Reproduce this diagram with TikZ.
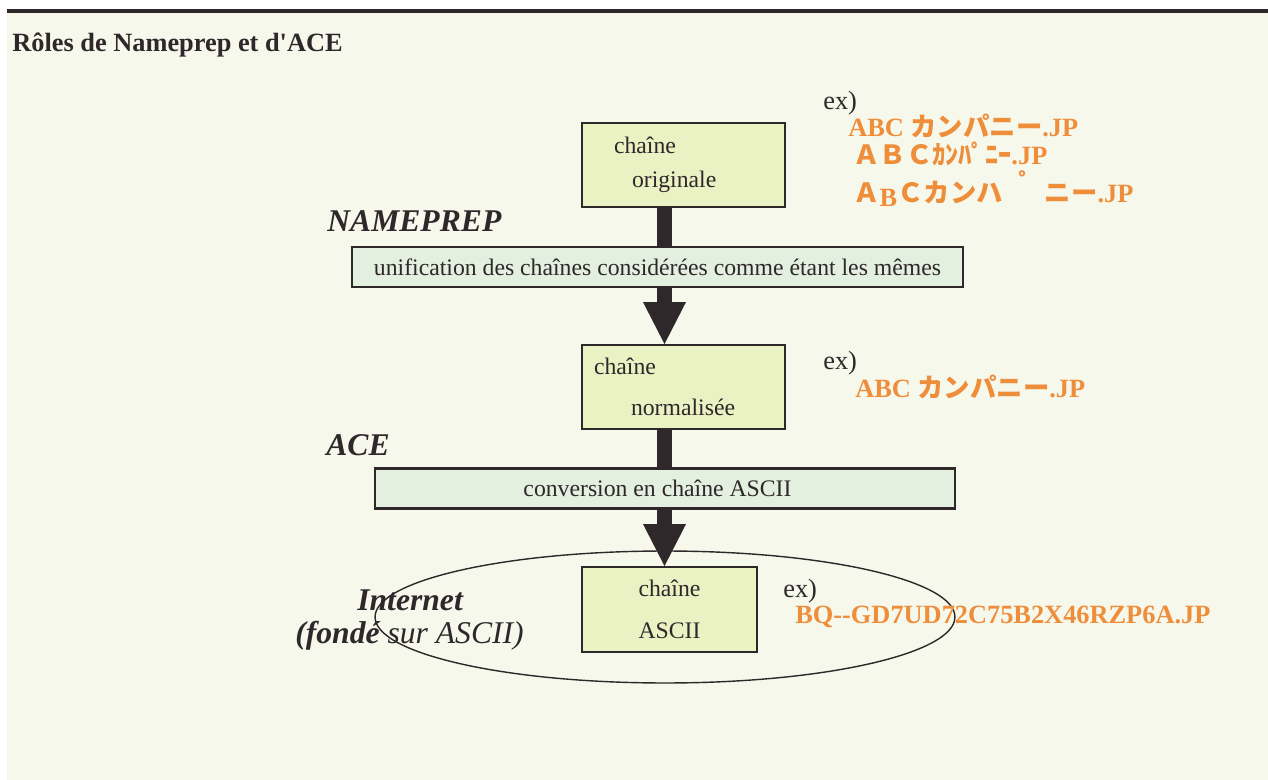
\documentclass[tikz,border=0pt]{standalone}
\usepackage{fontspec}
\setmainfont{Liberation Serif}
\newfontfamily\jpfont{Noto Sans CJK JP}
\usetikzlibrary{arrows.meta}
\definecolor{inkc}{RGB}{46,40,42}
\definecolor{bgc}{RGB}{246,248,236}
\definecolor{boxc}{RGB}{234,242,196}
\definecolor{bandc}{RGB}{227,239,223}
\definecolor{orangec}{RGB}{239,142,58}

\begin{document}
\begin{tikzpicture}[
  x={(0.02cm,0cm)},
  y={(0cm,-0.02cm)},
  chainebox/.style={draw=inkc, fill=boxc, line width=1.1pt, inner sep=0pt,
    font=\fontsize{13.5}{16}\selectfont, text=inkc},
  bande/.style={draw=inkc, fill=bandc, line width=1.3pt, minimum height=0.8cm,
    inner sep=0pt, font=\fontsize{13.5}{16}\selectfont, text=inkc},
  fleche/.style={draw=inkc, line width=0.3cm},
  pointe/.style={fleche, -{Triangle[width=0.86cm,length=0.84cm,line width=0pt]}},
  etape/.style={font=\fontsize{18}{20}\selectfont\bfseries\itshape, text=inkc,
    anchor=base west, inner sep=0pt},
  exemple/.style={font=\fontsize{15}{17}\selectfont, text=inkc, anchor=base west, inner sep=0pt},
  codejp/.style={font=\fontsize{15}{17}\selectfont\bfseries, text=orangec,
    anchor=base west, inner sep=0pt}
]
  % fond de la page
  \fill[white] (0,0) rectangle (1268,780);
  \useasboundingbox (0,0) rectangle (1268,780);
  \fill[bgc] (7,13) rectangle (1268,780);
  \fill[inkc] (7,9) rectangle (1268,13);
  \node[anchor=base west, inner sep=0pt, text=inkc,
    font=\fontsize{15}{17}\selectfont\bfseries] (titre) at (12,52)
    {Rôles de Nameprep et d\textquotesingle ACE};

  % réseau
  \draw[inkc, line width=0.8pt] (665,617) ellipse [x radius=5.8cm, y radius=1.32cm];

  % chaînes et traitements
  \node[chainebox, text width=4.06cm, minimum height=1.68cm, align=left] (orig) at (683.5,165)
    {\hspace*{0.64cm}chaîne\\[0.12cm]\hspace*{1cm}originale};
  \node[bande, minimum width=12.22cm] (nameprep) at (657.5,267)
    {unification des chaînes considérées comme étant les mêmes};
  \node[chainebox, text width=4.06cm, minimum height=1.68cm, align=left] (norm) at (683.5,387)
    {\hspace*{0.24cm}chaîne\\[0.26cm]\hspace*{0.98cm}normalisée};
  \node[bande, minimum width=11.6cm] (ace) at (665,488.5)
    {\hspace*{-0.3cm}conversion en chaîne ASCII};
  \node[chainebox, text width=3.5cm, minimum height=1.7cm, align=center] (ascii) at (669.5,609.5)
    {chaîne\\[0.28cm]ASCII};

  % flèches
  \coordinate (axe) at (664.5,0);
  \draw[fleche] (orig.south -| axe) -- (nameprep.north -| axe);
  \draw[pointe] (nameprep.south -| axe) -- (norm.north -| axe);
  \draw[fleche] (norm.south -| axe) -- (ace.north -| axe);
  \draw[pointe] (ace.south -| axe) -- (ascii.north -| axe);

  % étiquettes
  \node[etape] (lnp) at (327,232) {NAMEPREP};
  \node[etape] (lace) at (326,456) {ACE};
  \node[etape] (lnet) at (357,610) {Internet};
  \node[etape] (lbase) at (295,643) {(fondé \mdseries sur ASCII)};

  % exemples
  \node[exemple] (ex1) at (823,110) {ex)};
  \node[codejp] (ex1a) at (848,137) {ABC {\jpfont カンパニー}.JP};
  \node[codejp] (ex1b) at (853,165) {{\jpfont ＡＢＣｶﾝﾊﾟﾆｰ}.JP};
  \node[codejp] (ex1c) at (853,203)
    {{\jpfont Ａ}\raisebox{-0.25ex}{B}{\jpfont Ｃカンハ}\hspace{0.6em}\raisebox{0.9ex}{\jpfont ゜}{\jpfont ニー}.JP};
  \node[exemple] (ex2) at (823,370) {ex)};
  \node[codejp] (ex2a) at (855,398) {ABC {\jpfont カンパニー}.JP};
  \node[exemple] (ex3) at (783,597) {ex)};
  \node[codejp] (ex3a) at (795,623) {BQ-{}-GD7UD72C75B2X46RZP6A.JP};
\end{tikzpicture}
\end{document}
